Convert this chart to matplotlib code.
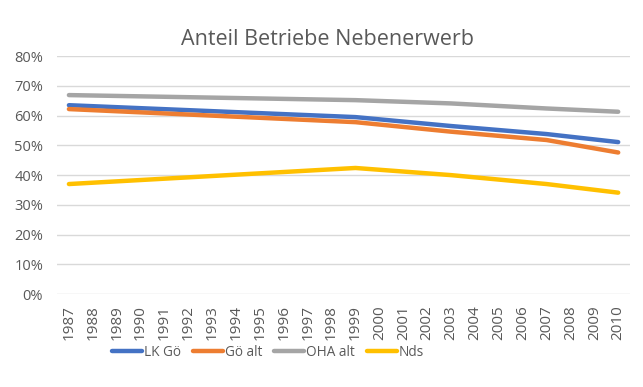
import numpy as np
import matplotlib
matplotlib.use("Agg")
from matplotlib import pyplot as plt
from matplotlib.ticker import PercentFormatter

plt.rcParams['font.family'] = ['Open Sans', 'DejaVu Sans']

years = list(range(1987, 2011))
survey_years = [1987, 1999, 2003, 2007, 2010]

lk_goe = [63.5, 59.5, 56.5, 53.8, 51.1]
goe_alt = [62.2, 57.8, 54.6, 51.8, 47.6]
oha_alt = [66.9, 65.2, 64.1, 62.4, 61.3]
nds = [37.0, 42.4, 40.0, 37.0, 34.1]

labels = ["LK Gö", "Gö alt", "OHA alt", "Nds"]
colors = ["#4472C4", "#ED7D31", "#A5A5A5", "#FFC000"]
text_color = "#595959"

fig = plt.figure(figsize=(6.43, 3.87), dpi=100)
ax = fig.add_axes([0.0886, 0.240, 0.8914, 0.615])

for vals, lab, col in zip([lk_goe, goe_alt, oha_alt, nds], labels, colors):
    ax.plot(survey_years, vals, color=col, lw=3.2, label=lab,
            solid_capstyle='round', solid_joinstyle='round')

ax.set_xlim(1986.5, 2010.5)
ax.set_ylim(0, 80)
ax.set_xticks(years)
ax.set_xticklabels([str(y) for y in years], rotation=90, color=text_color, fontsize=11)
ax.set_yticks(np.arange(0, 81, 10))
ax.yaxis.set_major_formatter(PercentFormatter(decimals=0))
ax.tick_params(axis='y', colors=text_color, labelsize=10.5, length=0, pad=10)
ax.tick_params(axis='x', length=0, pad=8)
ax.grid(axis='y', color="#D9D9D9", lw=1)
ax.set_axisbelow(True)
for s in ax.spines.values():
    s.set_visible(False)

fig.suptitle("Anteil Betriebe Nebenerwerb", x=0.51, y=0.925, fontsize=15.5, color=text_color)

ax.legend(loc='center', bbox_to_anchor=(0.368, -0.245), ncol=4, frameon=False,
          fontsize=9.8, handlelength=2.2, handletextpad=0.12, columnspacing=0.9,
          labelcolor=text_color)

fig.savefig("out.png", dpi=100)
